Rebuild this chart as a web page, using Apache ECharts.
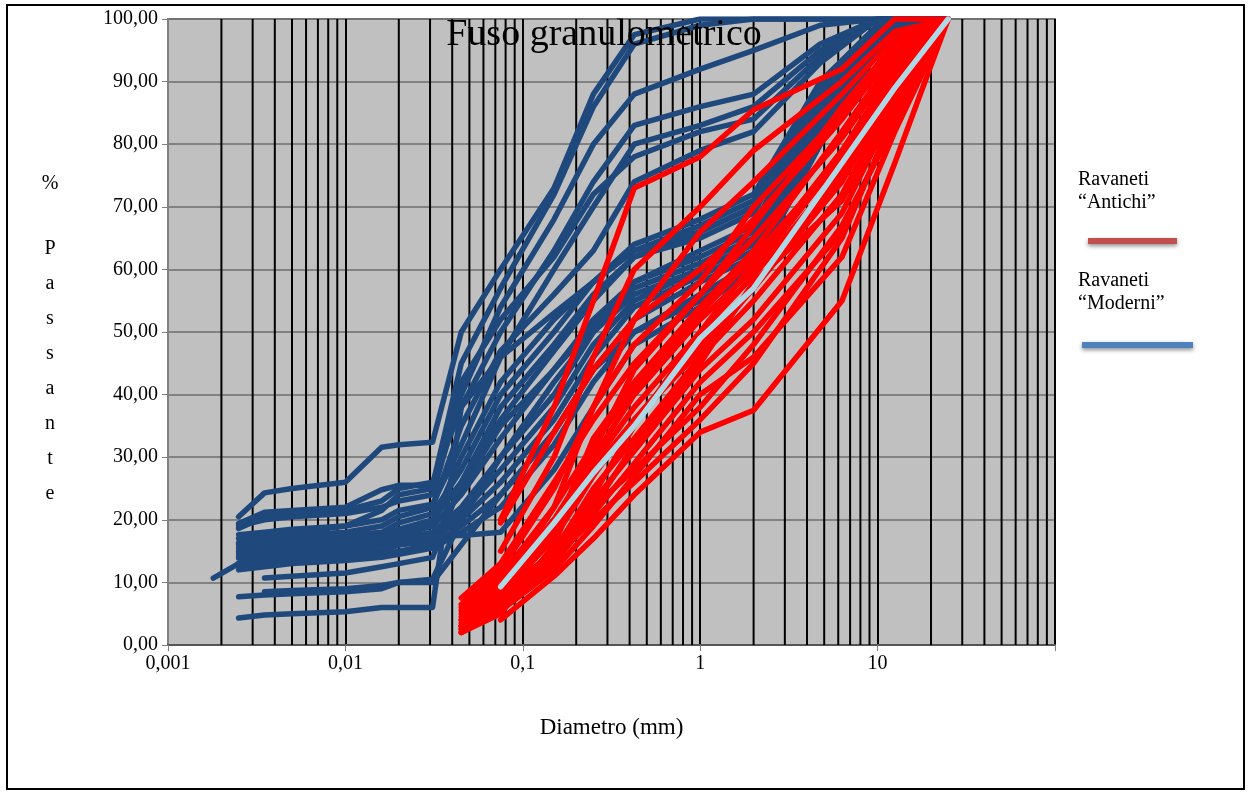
<!DOCTYPE html>
<html>
<head>
<meta charset="utf-8">
<title>Fuso granulometrico</title>
<script src="https://cdn.jsdelivr.net/npm/echarts@6/dist/echarts.min.js"></script>
<style>
  html, body { margin: 0; padding: 0; background: #fff; }
  #container { width: 1254px; height: 792px; }
</style>
</head>
<body>
<div id="container"></div>
<script>
// diametri dei setacci (mm) per i ravaneti "antichi"
var sieveAntichi = [0.045, 0.075, 0.15, 0.25, 0.425, 1, 2, 6.3, 12.5, 25];
// diametri (aerometria + setacci) per i ravaneti "moderni"
var sieveModerni = [0.0018, 0.0025, 0.0035, 0.005, 0.01, 0.016, 0.02, 0.031, 0.045, 0.075, 0.15, 0.25, 0.425, 1, 2, 4.75, 10, 25];

// % passante, ravaneti "antichi"
var antichi = [
  [null, 4, 11, 17, 24, 34, 37.5, 55, 77, 100],
  [2, 5.5, 12, 19, 27, 40, 46, 62, 82, 100],
  [2.5, 6, 13, 21, 29, 42, 50, 66, 84, 100],
  [3, 6.5, 14, 23, 31, 44, 52, 69, 86, 100],
  [3.5, 7, 15, 25, 33, 46, 55, 72, 88, 100],
  [4, 8, 17, 27, 36, 48, 57, 74, 89, 100],
  [5, 9, 19, 29, 38, 50, 59, 76, 90, 100],
  [6, 11, 22, 32, 41, 53, 62, 78, 91, 100],
  [7.5, 13, 26, 36, 45, 56, 65, 81, 93, 100],
  [null, 19.5, 34, 44, 52, 60, 68, 84, 95, 100],
  [2, 5, 16, 31, 44, 56, 67, 86, 96, 100],
  [3, 9, 22, 38, 52, 66, 74, 88, 97, 100],
  [null, 15, 30, 46, 60, 70, 79, 90, 98, 100],
  [null, 20, 38, 55, 73, 78, 85.5, 92, 100, 100],
  [2.5, 7, 14, 20, 26, 36, 45, 65, 85, 100],
  [4.5, 8, 15, 22, 28, 38, 48, 67, 83, 100],
  [null, 6, 13, 22, 32, 45, 58, 71, 87, 100],
  [5.5, 10, 20, 28, 36, 47, 57, 75, 90, 100],
  [3, 7.5, 18, 33, 42, 54, 63, 82, 94, 100],
  [6.5, 12, 25, 38, 48, 58, 70, 85, 96, 100],
  [2, 6, 14, 24, 35, 50, 61, 79, 92, 100],
  [4, 9, 20, 30, 40, 52, 60, 78, 91, 100]
];
// curva azzurra
var curvaMedia = [null, 9.3, 19.5, 27.5, 35, 49, 57, 77, 89, 100];

// % passante, ravaneti "moderni"
var moderni = [
  [null, 20.5, 24.3, 25, 26, 31.6, 32, 32.4, 50, 60, 73, 88, 97.5, 100, 100, 100, 100, 100],
  [null, 19.4, 21.2, 21.5, 22, 24.8, 25.5, 25.5, 45, 57, 72, 86, 96, 99, 100, 100, 100, 100],
  [null, 18.6, 20.5, 21, 21.5, 23, 25, 26, 38, 50, 63, 74, 83, 86, 88, 96, 100, 100],
  [null, 17.6, 18, 18.5, 19, 20, 21.5, 22.5, 32, 46, 60, 70, 80, 83, 86, 95, 100, 100],
  [null, 16.3, 17, 17.5, 18, 19, 20.5, 22, 35, 47, 56, 63, 74, 79, 82, 93, 100, 100],
  [null, 16, 16.5, 17, 17.5, 18, 19.5, 21, 28, 40, 50, 58, 64, 68, 72, 90, 99, 100],
  [null, 15.5, 16, 16.5, 17, 17.5, 18.5, 20, 26, 36, 47, 55, 62, 66, 70, 88, 98, 100],
  [null, 15, 15.5, 16, 16.5, 17, 18, 19.5, 30, 42, 52, 58, 63, 67, 71, 89, 99, 100],
  [null, 14.7, 15, 15.5, 16, 16.5, 17.5, 19, 24, 33, 44, 52, 58, 62, 66, 86, 98, 100],
  [null, 14.2, 14.5, 15, 15.5, 16, 17, 18, 22, 30, 40, 50, 57, 61, 65, 85, 97, 100],
  [null, 13.9, 14, 14.5, 15, 15.5, 16.5, 17.5, 21, 28, 38, 48, 55, 60, 64, 84, 97, 100],
  [null, 13.1, 13.5, 14, 14.5, 15, 16, 17, 20, 26, 36, 46, 54, 59, 63, 83, 96, 100],
  [null, 12.5, 13, 13.5, 14, 14.5, 15, 16, 19, 24, 34, 44, 52, 58, 62, 82, 96, 100],
  [null, 12, 12.5, 13, 13.5, 14, 14.5, 15.5, 18, 22, 32, 42, 50, 56, 61, 80, 95, 100],
  [10.7, 13, 14, 14.5, 15, 15.5, 16, 16.5, 25, 35, 44, 51, 58, 63, 67, 87, 98, 100],
  [null, null, 10.7, 11, 11.5, 12.5, 13, 14, 26, 38, 48, 56, 62, 65, 69, 88, 99, 100],
  [null, 7.7, 8, 8.2, 8.5, 9, 10, 10.5, 20, 30, 42, 50, 56, 60, 64, 85, 97, 100],
  [null, null, 8.5, 8.7, 9, 9.5, 10, 10, 16, 24, 34, 44, 50, 55, 60, 80, 95, 100],
  [null, 4.3, 4.8, 5, 5.3, 6, 6, 6, 38, 46, 53, 58, 63, 66, 70, 88, 98, 100],
  [null, null, null, null, 15.5, 16.5, 17, 17.5, 17.5, 18, 28, 38, 48, 54, 60, 80, 95, 100],
  [null, 19, 20, 20.5, 21, 22, 23, 24, 40, 54, 68, 80, 88, 92, 95, 99, 100, 100],
  [null, 17, 17.5, 18, 19, 21.5, 24, 25, 42, 52, 62, 72, 78, 82, 84, 94, 100, 100]
];

// etichette asse x
var xTicks = [0.001, 0.01, 0.1, 1, 10, 100];
var xTickLabels = ['0,001', '0,01', '0,1', '1', '10', ''];

var FONT = '"Liberation Serif", "Times New Roman", serif';

function toPairs(d, vals) {
  var out = [];
  for (var i = 0; i < vals.length; i++) {
    if (vals[i] !== null) out.push([d[i], vals[i]]);
  }
  return out;
}

var series = [];

// righe verticali secondarie (2..9 per ogni decade)
for (var k = 0; k < xTicks.length - 1; k++) {
  for (var m = 2; m <= 9; m++) {
    var xv = +(m * xTicks[k]).toPrecision(3);
    series.push({
      type: 'line',
      data: [[xv, 0], [xv, 100]],
      symbol: 'none',
      silent: true,
      z: 1,
      lineStyle: { color: '#000', width: 2 }
    });
  }
}

function addLine(d, vals, color, z) {
  series.push({
    type: 'line',
    data: toPairs(d, vals),
    symbol: 'none',
    silent: true,
    z: z,
    lineStyle: { color: color, width: 5.5, cap: 'round', join: 'round' }
  });
}

moderni.forEach(function(v) { addLine(sieveModerni, v, '#1f497d', 3); });
antichi.forEach(function(v) { addLine(sieveAntichi, v, '#ff0000', 4); });
addLine(sieveAntichi, curvaMedia, '#add8e6', 5);

var myChart = echarts.init(document.getElementById('container'));
var option = {
  animation: false,
  backgroundColor: '#fff',
  title: {
    text: 'Fuso granulometrico',
    left: 599,
    top: 11,
    textAlign: 'center',
    z: 10,
    textStyle: { fontFamily: FONT, fontSize: 38, fontWeight: 'normal', color: '#000' }
  },
  grid: {
    left: 168, right: 199, top: 19, bottom: 147,
    show: true,
    backgroundColor: '#c0c0c0',
    borderColor: '#808080',
    borderWidth: 2
  },
  xAxis: {
    type: 'log',
    logBase: 10,
    min: 0.001,
    max: 100,
    name: 'Diametro (mm)',
    nameLocation: 'middle',
    nameGap: 71,
    nameTextStyle: { fontFamily: FONT, fontSize: 23, color: '#000' },
    axisLine: { show: true, lineStyle: { color: '#555', width: 2 } },
    axisTick: { show: true, length: 6, lineStyle: { color: '#808080' } },
    axisLabel: {
      margin: 9,
      fontFamily: FONT, fontSize: 20, color: '#000',
      formatter: function(v) {
        for (var i = 0; i < xTicks.length; i++) {
          if (Math.abs(Math.log10(v) - Math.log10(xTicks[i])) < 1e-6) return xTickLabels[i];
        }
        return '';
      }
    },
    splitLine: { show: true, lineStyle: { color: '#000', width: 2 } }
  },
  yAxis: {
    type: 'value',
    min: 0,
    max: 100,
    interval: 10,
    axisLine: { show: true, lineStyle: { color: '#808080', width: 2 } },
    axisTick: { show: true, length: 6, lineStyle: { color: '#808080' } },
    axisLabel: {
      margin: 10,
      fontFamily: FONT, fontSize: 20, color: '#000',
      formatter: function(v) { return v.toFixed(2).replace('.', ','); }
    },
    splitLine: { show: true, lineStyle: { color: '#6e6e6e', width: 1.5 } }
  },
  graphic: [
    {
      type: 'rect', silent: true, z: 100,
      shape: { x: 7, y: 5, width: 1237, height: 784 },
      style: { fill: 'none', stroke: '#000', lineWidth: 2 }
    },
    {
      type: 'text', silent: true,
      style: { text: '%', x: 50, y: 184, align: 'center', verticalAlign: 'middle', font: '20px ' + FONT, fill: '#000' }
    },
    {
      type: 'text', silent: true,
      style: {
        text: 'P\na\ns\ns\na\nn\nt\ne', x: 50, y: 371, align: 'center', verticalAlign: 'middle',
        font: '20px ' + FONT, fill: '#000', lineHeight: 35
      }
    },
    {
      type: 'text', left: 1078, top: 168, silent: true,
      style: { text: 'Ravaneti\n\u201cAntichi\u201d', font: '20px ' + FONT, fill: '#000', lineHeight: 23 }
    },
    {
      type: 'line', silent: true,
      shape: { x1: 1088, y1: 241, x2: 1177, y2: 241 },
      style: { stroke: '#c0504d', lineWidth: 6, shadowBlur: 4, shadowOffsetY: 2, shadowColor: 'rgba(0,0,0,0.45)' }
    },
    {
      type: 'text', left: 1078, top: 269, silent: true,
      style: { text: 'Ravaneti\n\u201cModerni\u201d', font: '20px ' + FONT, fill: '#000', lineHeight: 23 }
    },
    {
      type: 'line', silent: true,
      shape: { x1: 1082, y1: 345, x2: 1193, y2: 345 },
      style: { stroke: '#4f81bd', lineWidth: 6, shadowBlur: 4, shadowOffsetY: 2, shadowColor: 'rgba(0,0,0,0.45)' }
    }
  ],
  series: series
};
myChart.setOption(option);
</script>
</body>
</html>
